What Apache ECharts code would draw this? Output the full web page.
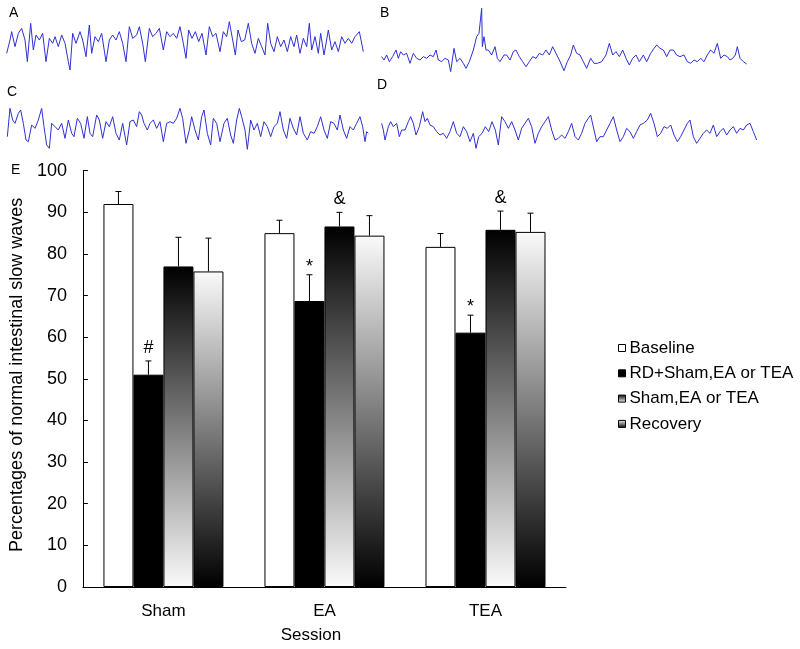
<!DOCTYPE html>
<html>
<head>
<meta charset="utf-8">
<script src="https://cdn.jsdelivr.net/npm/echarts@6/dist/echarts.min.js"></script>
<style>html,body{margin:0;padding:0;background:#fff;}#chart{width:800px;height:649px;}</style>
</head>
<body>
<div id="chart"></div>
<script>
// ---- Slow-wave recordings (time in a.u., amplitude in a.u.) ----
var traceA = [[20,40],[30,80],[35,105],[45,60],[55,100],[65,115],[75,80],[82,15],[92,130],[100,50],[108,95],[118,80],[128,100],[138,15],[148,85],[158,70],[165,90],[175,60],[185,95],[195,70],[205,15],[210,-10],[218,100],[228,70],[240,105],[248,80],[258,30],[268,125],[275,40],[285,90],[295,75],[305,100],[318,15],[328,80],[338,95],[348,80],[358,105],[368,70],[378,15],[388,120],[398,85],[410,95],[418,120],[428,70],[436,15],[448,115],[458,90],[468,100],[478,115],[490,50],[500,105],[510,90],[520,100],[530,85],[540,120],[550,70],[558,25],[566,110],[576,85],[586,105],[596,75],[606,100],[618,35],[628,120],[638,90],[648,100],[660,45],[670,105],[680,90],[688,135],[698,80],[706,35],[714,110],[724,75],[734,80],[745,130],[755,70],[765,40],[775,85],[785,60],[795,35],[803,130],[812,70],[822,45],[832,90],[842,60],[852,80],[862,45],[872,90],[882,60],[890,95],[900,40],[910,85],[920,60],[928,130],[935,50],[945,90],[955,40],[962,100],[972,35],[985,110],[995,50],[1005,75],[1015,45],[1025,90],[1035,70],[1045,85],[1055,70],[1065,90],[1078,105],[1090,45]];
var traceB = [[5,30],[12,20],[20,35],[28,15],[38,30],[48,50],[55,25],[62,45],[70,35],[80,40],[90,10],[100,40],[110,25],[120,20],[130,30],[140,25],[150,35],[160,30],[168,50],[175,20],[185,15],[195,25],[205,20],[212,-15],[222,55],[230,15],[240,25],[250,10],[258,-5],[268,15],[280,50],[290,90],[297,100],[302,105],[305,175],[307,60],[312,90],[318,50],[325,50],[335,35],[345,60],[352,25],[360,15],[372,35],[380,35],[390,20],[400,45],[408,50],[418,30],[428,15],[438,0],[448,15],[458,30],[468,25],[478,40],[488,35],[498,50],[508,35],[518,60],[528,40],[538,20],[552,-12],[562,15],[572,35],[580,65],[590,40],[600,35],[610,15],[620,-5],[632,25],[642,10],[652,10],[665,15],[678,35],[688,70],[698,35],[708,45],[718,30],[728,50],[738,25],[748,5],[758,25],[768,35],[778,15],[790,35],[800,15],[812,40],[822,55],[830,65],[840,55],[850,50],[860,30],[870,50],[880,50],[890,35],[900,30],[912,35],[922,15],[932,10],[942,20],[952,15],[962,25],[972,15],[982,35],[992,50],[1002,40],[1012,70],[1022,25],[1032,35],[1042,30],[1050,20],[1058,25],[1066,35],[1072,60],[1080,25],[1090,15],[1100,8]];
var traceC = [[22,60],[30,145],[38,110],[45,100],[55,130],[62,140],[70,100],[78,50],[85,45],[95,95],[105,85],[115,110],[125,145],[132,90],[140,35],[148,25],[155,100],[165,90],[175,80],[185,100],[195,55],[205,110],[215,70],[222,60],[232,115],[242,100],[252,55],[262,120],[270,70],[278,60],[290,125],[298,110],[308,55],[318,105],[328,90],[338,120],[348,70],[358,50],[368,100],[380,35],[390,105],[400,110],[410,90],[418,135],[425,125],[432,100],[442,80],[450,100],[460,110],[470,85],[480,105],[490,45],[500,100],[510,105],[520,100],[530,115],[540,145],[548,115],[558,40],[568,80],[575,120],[585,80],[595,50],[605,120],[612,140],[622,70],[632,35],[640,115],[650,100],[660,45],[672,100],[682,115],[692,65],[700,40],[710,110],[718,145],[725,120],[735,80],[742,22],[752,110],[762,80],[772,100],[782,60],[792,105],[802,90],[812,60],[822,90],[832,100],[840,135],[850,80],[860,55],[870,115],[880,85],[890,65],[900,120],[910,70],[922,50],[932,75],[942,70],[952,90],[962,120],[972,80],[982,55],[992,105],[1002,100],[1012,80],[1020,125],[1030,80],[1040,55],[1050,90],[1060,80],[1070,100],[1080,120],[1088,90],[1095,45],[1100,75],[1105,70]];
var traceD = [[35,100],[40,80],[45,50],[55,90],[62,105],[70,90],[80,100],[88,60],[95,80],[105,80],[115,105],[122,120],[130,100],[138,65],[148,90],[158,135],[165,105],[172,115],[180,95],[190,90],[200,75],[210,65],[220,70],[230,55],[240,75],[250,105],[260,70],[270,60],[280,90],[290,75],[300,45],[310,70],[318,25],[326,60],[336,70],[346,90],[356,75],[366,105],[376,80],[385,35],[395,120],[405,105],[415,85],[425,105],[435,80],[445,50],[455,85],[465,100],[475,115],[485,90],[495,40],[505,70],[515,90],[525,105],[535,120],[545,80],[555,50],[565,55],[575,65],[585,55],[595,75],[605,100],[615,60],[625,50],[635,70],[645,100],[655,115],[662,125],[672,80],[680,45],[690,60],[700,60],[710,80],[720,100],[730,120],[740,80],[750,45],[760,60],[770,85],[780,75],[790,55],[800,75],[810,95],[820,100],[832,110],[842,130],[852,100],[862,60],[872,70],[882,90],[892,85],[902,95],[912,65],[922,45],[932,60],[942,80],[952,100],[960,110],[970,60],[980,40],[990,55],[1000,70],[1010,80],[1020,70],[1030,95],[1040,60],[1050,75],[1060,85],[1070,65],[1080,80],[1090,90],[1100,70],[1110,85],[1120,80],[1130,95],[1140,100],[1150,75],[1160,50]];

// ---- Bar chart data ----
var categories = ['Sham', 'EA', 'TEA'];
var seriesNames = ['Baseline', 'RD+Sham,EA or TEA', 'Sham,EA or TEA', 'Recovery'];
var baseline = [92.0, 85.0, 81.7];
var baselineErr = [3.0, 3.1, 3.2];
var rdStim = [51.0, 68.7, 61.1];
var rdStimErr = [3.3, 6.3, 4.2];
var stimOnly = [77.0, 86.6, 85.8];
var stimOnlyErr = [7.0, 3.4, 4.5];
var recovery = [75.8, 84.4, 85.3];
var recoveryErr = [8.0, 4.8, 4.5];
var baselineMarks = ['', '', ''];
var rdStimMarks = ['#', '*', '*'];
var stimOnlyMarks = ['', '&', '&'];
var recoveryMarks = ['', '', ''];
var yTicks = [0, 10, 20, 30, 40, 50, 60, 70, 80, 90, 100];

var FONT = 'Liberation Sans, Arial, sans-serif';
var BAR_W = 30;
var TRACE_COLOR = '#3030d4';

var chart = echarts.init(document.getElementById('chart'), null, {renderer: 'canvas'});

var values = [baseline, rdStim, stimOnly, recovery];
var errs = [baselineErr, rdStimErr, stimOnlyErr, recoveryErr];
var marks = [baselineMarks, rdStimMarks, stimOnlyMarks, recoveryMarks];
var fills = [
  '#ffffff',
  '#000000',
  {type: 'linear', x: 0, y: 0, x2: 0, y2: 1, colorStops: [{offset: 0, color: '#000000'}, {offset: 1, color: '#fafafa'}]},
  {type: 'linear', x: 0, y: 0, x2: 0, y2: 1, colorStops: [{offset: 0, color: '#fafafa'}, {offset: 1, color: '#000000'}]}
];

var series = [];
// traces
[traceA, traceB, traceC, traceD].forEach(function (tr, i) {
  series.push({
    type: 'line', xAxisIndex: i, yAxisIndex: i, data: tr, symbol: 'none', silent: true,
    lineStyle: {color: TRACE_COLOR, width: 1}
  });
});
// bars
seriesNames.forEach(function (name, k) {
  series.push({
    name: name, type: 'bar', xAxisIndex: 4, yAxisIndex: 4,
    data: values[k], barWidth: BAR_W, barGap: '0%',
    itemStyle: {color: fills[k], borderColor: '#000', borderWidth: 1}
  });
});
// error bars + significance marks
seriesNames.forEach(function (name, k) {
  var d = values[k].map(function (v, i) { return [i, v, errs[k][i]]; });
  series.push({
    type: 'custom', xAxisIndex: 4, yAxisIndex: 4, data: d, silent: true, z: 5,
    renderItem: function (params, api) {
      var ci = api.value(0), v = api.value(1), e = api.value(2);
      var p0 = api.coord([ci, v]);
      var p1 = api.coord([ci, v + e]);
      var x = p0[0] + (k - 1.5) * BAR_W;
      var children = [
        {type: 'line', shape: {x1: x, y1: p0[1], x2: x, y2: p1[1]}, style: {stroke: '#000', lineWidth: 1}},
        {type: 'line', shape: {x1: x - 3, y1: p1[1], x2: x + 3, y2: p1[1]}, style: {stroke: '#000', lineWidth: 1}}
      ];
      var m = marks[k][params.dataIndex];
      if (m) {
        children.push({type: 'text', style: {text: m, x: x, y: p1[1] - (m === '*' ? -1 : 4), align: 'center', verticalAlign: 'bottom', font: '18px ' + FONT, fill: '#000'}});
      }
      return {type: 'group', children: children};
    }
  });
});

function hiddenX(g, min, max) { return {type: 'value', gridIndex: g, min: min, max: max, show: false}; }
function hiddenY(g, min, max) { return {type: 'value', gridIndex: g, min: min, max: max, show: false}; }

var option = {
  animation: false,
  backgroundColor: '#ffffff',
  grid: [
    {left: 6.667, top: 0, width: 356.667, height: 80},
    {left: 381.667, top: 0, width: 365, height: 80},
    {left: 7.333, top: 90, width: 361, height: 60},
    {left: 381.667, top: 90, width: 375, height: 60},
    {left: 71, top: 170.7, width: 495, height: 416.6}
  ],
  xAxis: [
    hiddenX(0, 20, 1090), hiddenX(1, 5, 1100), hiddenX(2, 22, 1105), hiddenX(3, 35, 1160),
    {
      type: 'category', gridIndex: 4, data: categories,
      name: 'Session', nameLocation: 'middle', nameGap: 40,
      nameTextStyle: {fontFamily: FONT, fontSize: 17, color: '#000', padding: [0, 27, 0, 0]},
      axisLine: {lineStyle: {color: '#000', width: 1}},
      axisTick: {inside: true, length: 5, lineStyle: {color: '#000'}},
      axisLabel: {fontFamily: FONT, fontSize: 17, color: '#000', margin: 16}
    }
  ],
  yAxis: [
    hiddenY(0, -40, 200), hiddenY(1, -40, 200), hiddenY(2, 20, 200), hiddenY(3, 20, 200),
    {
      type: 'value', gridIndex: 4, min: yTicks[0], max: yTicks[yTicks.length - 1], interval: yTicks[1] - yTicks[0],
      name: 'Percentages of normal intestinal slow waves', nameLocation: 'middle', nameGap: 49,
      nameTextStyle: {fontFamily: FONT, fontSize: 18, color: '#000', padding: [0, 0, 0, 8]},
      axisLine: {show: true, lineStyle: {color: '#000', width: 1}},
      axisTick: {show: true, inside: true, length: 5, lineStyle: {color: '#000'}},
      axisLabel: {fontFamily: FONT, fontSize: 18, color: '#000', margin: 16},
      splitLine: {show: false}
    }
  ],
  legend: {
    data: seriesNames, orient: 'vertical', left: 613, top: 334.5,
    icon: 'rect', itemWidth: 7, itemHeight: 7, itemGap: 8.3,
    textStyle: {fontFamily: FONT, fontSize: 17, color: '#000', lineHeight: 17, padding: [0, 0, 0, -1]},
    itemStyle: {borderColor: '#000', borderWidth: 1}
  },
  graphic: [
    {type: 'text', left: 9, top: 6, style: {text: 'A', font: '14px ' + FONT, fill: '#000'}},
    {type: 'text', left: 380, top: 6, style: {text: 'B', font: '14px ' + FONT, fill: '#000'}},
    {type: 'text', left: 7, top: 85, style: {text: 'C', font: '14px ' + FONT, fill: '#000'}},
    {type: 'text', left: 377, top: 78, style: {text: 'D', font: '14px ' + FONT, fill: '#000'}},
    {type: 'text', left: 11, top: 163, style: {text: 'E', font: '14px ' + FONT, fill: '#000'}}
  ],
  series: series
};
chart.setOption(option);
</script>
</body>
</html>
